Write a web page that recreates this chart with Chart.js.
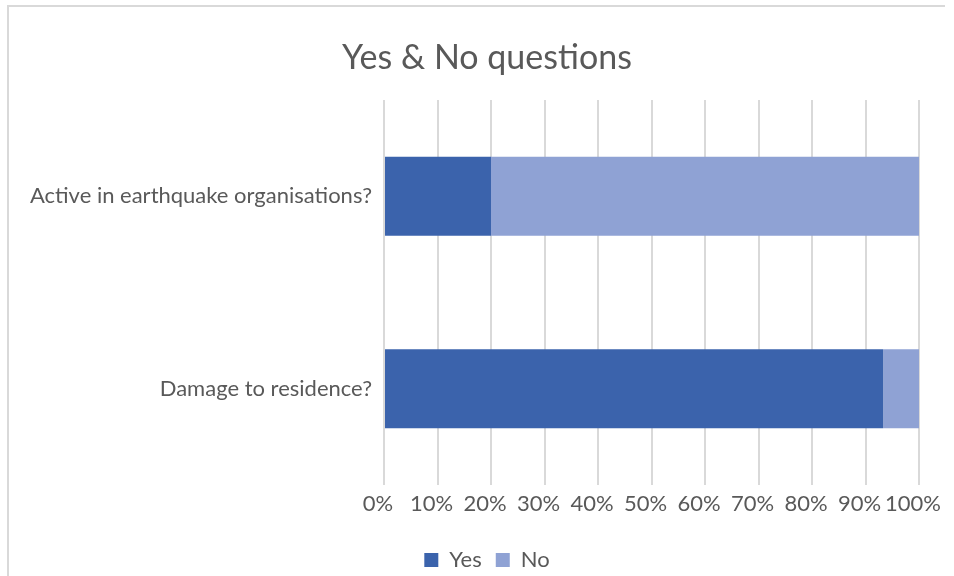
<!DOCTYPE html>
<html>
<head>
<meta charset="utf-8">
<script src="https://cdn.jsdelivr.net/npm/chart.js@4/dist/chart.umd.min.js"></script>
<style>
  html, body { margin: 0; padding: 0; background: #ffffff; }
  #wrap { position: relative; width: 954px; height: 576px; overflow: hidden; }
  #frame {
    position: absolute; left: 7px; top: 5px; width: 936px; height: 600px;
    border-top: 2px solid #d9d9d9; border-left: 2px solid #d9d9d9;
    pointer-events: none;
  }
  canvas { position: absolute; left: 0; top: 0; }
</style>
</head>
<body>
<div id="wrap">
  <canvas id="chart" width="954" height="581"></canvas>
  <div id="frame"></div>
</div>
<script>
// Survey answers, in percent of respondents
const questions = ['Active in earthquake organisations?', 'Damage to residence?'];
const yesShare = [20, 93.3];
const noShare = [80, 6.7];
const seriesNames = ['Yes', 'No'];
const percentTicks = [0, 10, 20, 30, 40, 50, 60, 70, 80, 90, 100];

const FONT = 'Lato, "Open Sans", sans-serif';
const TEXT = '#595959';

new Chart(document.getElementById('chart'), {
  type: 'bar',
  data: {
    labels: questions,
    datasets: [
      { label: seriesNames[0], data: yesShare, backgroundColor: '#3B63AC' },
      { label: seriesNames[1], data: noShare, backgroundColor: '#8FA2D4' }
    ]
  },
  options: {
    indexAxis: 'y',
    responsive: false,
    animation: false,
    barPercentage: 0.41,
    categoryPercentage: 1,
    layout: { padding: { left: 20, right: 0, top: 0, bottom: 0 } },
    plugins: {
      tooltip: { enabled: false },
      title: {
        display: true,
        text: 'Yes & No questions',
        color: TEXT,
        font: { family: FONT, size: 34, weight: 'normal' },
        padding: { top: 38, bottom: 21.2 }
      },
      legend: {
        position: 'bottom',
        labels: {
          color: TEXT,
          font: { family: FONT, size: 22 },
          boxWidth: 14,
          boxHeight: 14,
          padding: 14
        }
      }
    },
    scales: {
      x: {
        stacked: true,
        min: 0,
        max: 100,
        afterBuildTicks: (scale) => { scale.ticks = percentTicks.map(v => ({ value: v })); },
        afterFit: (scale) => { scale.paddingRight = 35; scale.height = 50; },
        border: { display: false },
        grid: { color: '#d9d9d9', lineWidth: 2, drawTicks: false },
        ticks: {
          color: TEXT,
          font: { family: FONT, size: 22 },
          padding: 6,
          labelOffset: -6,
          maxRotation: 0,
          autoSkip: false,
          callback: (v) => v + '%'
        }
      },
      y: {
        stacked: true,
        afterFit: (scale) => { scale.width = 364; },
        border: { display: false },
        grid: { display: false, drawTicks: false },
        ticks: {
          color: TEXT,
          font: { family: FONT, size: 22 },
          padding: 12
        }
      }
    }
  }
});
</script>
</body>
</html>
